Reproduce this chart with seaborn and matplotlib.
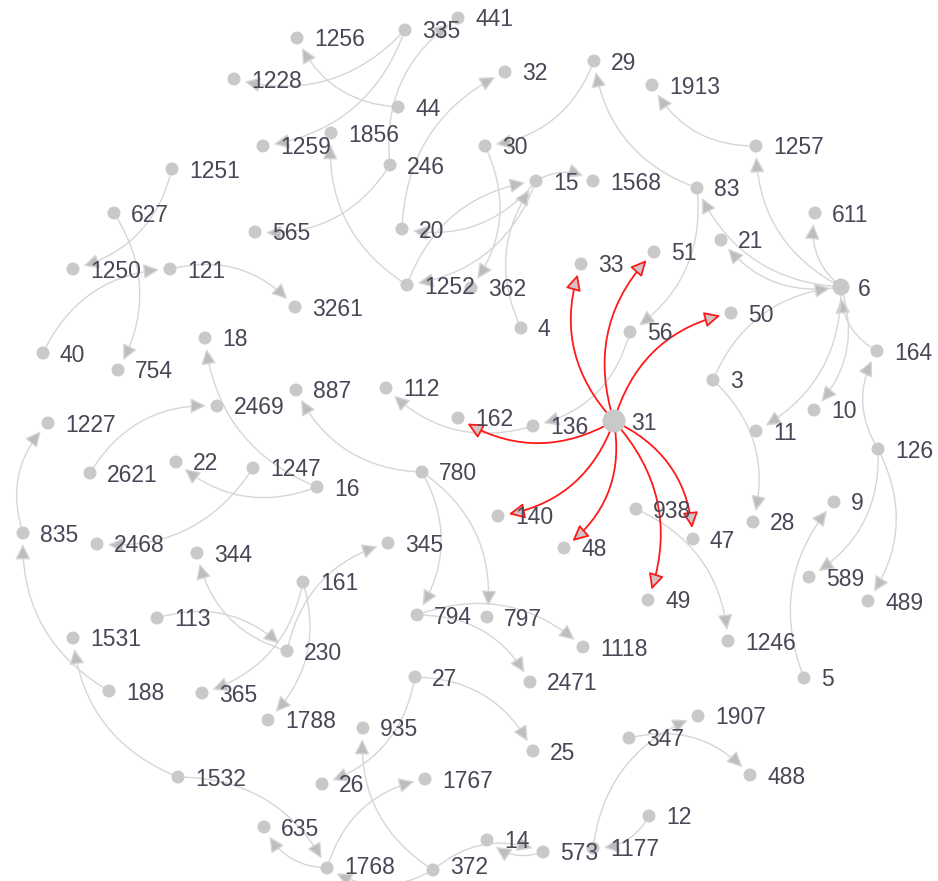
import matplotlib
matplotlib.use("Agg")
import matplotlib.pyplot as plt
from matplotlib.patches import FancyArrowPatch
import seaborn as sns
import pandas as pd

# ---- data ----
node_ids = ["1256", "335", "441", "1228", "44", "1259", "1856", "246", "1251", "627",
            "565", "20", "1250", "121", "1252", "3261", "362", "32", "29", "1913",
            "30", "15", "1568", "83", "1257", "611", "21", "33", "51", "6",
            "4", "56", "50", "3", "164", "10", "11", "126", "31", "136",
            "162", "112", "887", "18", "754", "40", "2469", "1227", "2621", "22",
            "1247", "16", "780", "140", "48", "938", "47", "28", "9", "589",
            "489", "49", "835", "2468", "344", "345", "161", "794", "797", "1118",
            "1246", "2471", "5", "113", "1531", "230", "188", "365", "1788", "27",
            "935", "25", "1907", "347", "488", "1532", "26", "1767", "635", "12",
            "1177", "573", "14", "1768", "372"]
node_x = [297, 405, 458, 234, 398, 263, 331, 390, 172, 114,
          255, 402, 73, 170, 407, 295, 471, 505, 594, 652,
          485, 536, 593, 697, 756, 815, 721, 581, 654, 841,
          521, 630, 731, 713, 877, 814, 756, 878, 614, 533,
          458, 386, 296, 205, 118, 43, 217, 48, 90, 176,
          253, 317, 422, 498, 564, 636, 693, 753, 834, 809,
          868, 648, 23, 97, 197, 388, 303, 417, 487, 583,
          728, 530, 804, 157, 73, 287, 109, 202, 268, 415,
          363, 533, 698, 629, 750, 178, 322, 425, 264, 649,
          593, 543, 487, 327, 433]
node_y = [38, 30, 18, 79, 107, 146, 133, 165, 169, 213,
          232, 229, 269, 269, 285, 307, 288, 72, 61, 85,
          146, 181, 181, 188, 146, 213, 240, 264, 252, 287,
          328, 332, 313, 380, 351, 410, 431, 449, 421, 426,
          418, 388, 390, 338, 370, 353, 406, 423, 473, 462,
          468, 487, 472, 516, 548, 509, 539, 522, 502, 577,
          601, 600, 533, 544, 553, 543, 582, 615, 617, 647,
          641, 682, 678, 618, 638, 651, 691, 693, 720, 677,
          728, 751, 716, 738, 775, 777, 784, 779, 827, 816,
          848, 852, 840, 868, 870]

edge_source = ["335", "335", "44", "246", "246", "1252", "1251", "627", "40", "121",
               "20", "15", "15", "1252", "4", "15", "30", "29", "83", "83",
               "1257", "6", "6", "6", "6", "3", "164", "6", "6", "3",
               "126", "126", "126", "5", "56", "136", "780", "780", "780", "794",
               "794", "938", "16", "16", "1247", "2621", "835", "188", "1532", "113",
               "230", "230", "161", "161", "27", "27", "372", "1532", "1768", "1768",
               "372", "372", "573", "12", "1177", "347"]
edge_target = ["1228", "1259", "1256", "441", "565", "1856", "1250", "754", "121", "3261",
               "32", "20", "1252", "15", "15", "1568", "362", "30", "29", "56",
               "1913", "1257", "83", "21", "611", "6", "6", "10", "11", "28",
               "164", "589", "489", "9", "136", "112", "887", "794", "797", "1118",
               "2471", "1246", "22", "18", "2468", "2469", "1227", "835", "1531", "230",
               "344", "345", "365", "1788", "25", "26", "935", "1768", "635", "1767",
               "1768", "573", "14", "1177", "1907", "488"]

focus_node = "31"
focus_targets = ["33", "51", "50", "162", "140", "48", "49", "47"]

# ---- figure ----
W, H = 938, 881
fig = plt.figure(figsize=(W / 100, H / 100), dpi=100)
ax = fig.add_axes([0, 0, 1, 1])

pos = {n: (x, y) for n, x, y in zip(node_ids, node_x, node_y)}
PT = 72 / 100  # points per pixel

def draw_edge(s, t, color, head_fc, lw, z):
    arr = FancyArrowPatch(pos[s], pos[t],
                          connectionstyle="arc3,rad=-0.3",
                          arrowstyle="-|>,head_length=0.45,head_width=0.22",
                          mutation_scale=21,
                          shrinkA=0, shrinkB=11 * PT,
                          color=color, lw=lw, zorder=z)
    arr.set_facecolor(head_fc)
    ax.add_patch(arr)

for s, t in zip(edge_source, edge_target):
    draw_edge(s, t, "#d6d6d6", "#bdbdbd", 1.0, 1)

for t in focus_targets:
    draw_edge(focus_node, t, "#ff1a1a", "#d2c4c4", 1.3, 2)

df = pd.DataFrame({"id": node_ids, "x": node_x, "y": node_y})
big = {"31": 23, "6": 17}
df["size"] = [(big.get(n, 13) * PT) ** 2 for n in node_ids]

sns.scatterplot(data=df, x="x", y="y", size="size", sizes=(df["size"].min(), df["size"].max()),
                color="#c9c9c9", edgecolor="none", legend=False, ax=ax, zorder=3)
ax.set_xlim(0, W)
ax.set_ylim(H, 0)
ax.axis("off")

for n, x, y in zip(node_ids, node_x, node_y):
    ax.text(x + 17, min(y + 2, H - 14), n, fontsize=16.5, family="Liberation Sans",
            color="#4a4656", ha="left", va="center", zorder=4)

fig.savefig("out.png", dpi=100)
